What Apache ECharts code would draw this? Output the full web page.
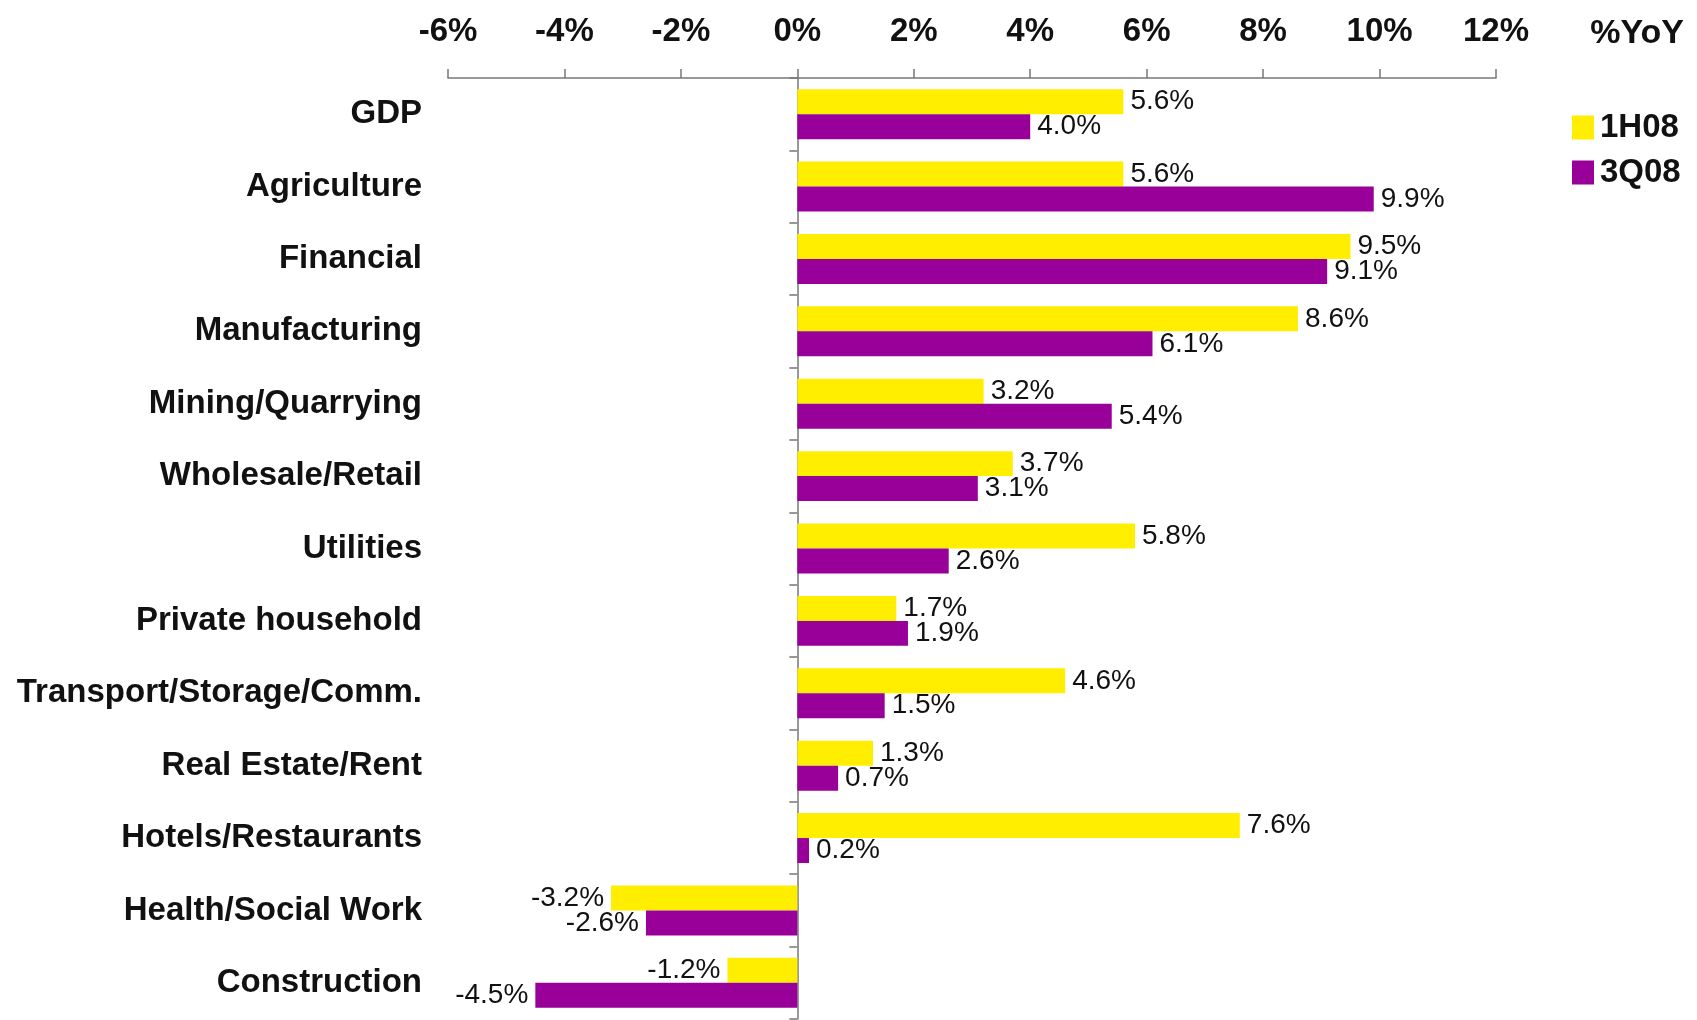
<!DOCTYPE html>
<html>
<head>
<meta charset="utf-8">
<title>GDP by sector %YoY</title>
<script src="https://cdn.jsdelivr.net/npm/echarts@6/dist/echarts.min.js"></script>
<style>
  html, body { margin: 0; padding: 0; background: #fff; }
  #main { width: 1697px; height: 1020px; }
</style>
</head>
<body>
<div id="main"></div>
<script>
// Data
var sectors = ['GDP', 'Agriculture', 'Financial', 'Manufacturing', 'Mining/Quarrying',
  'Wholesale/Retail', 'Utilities', 'Private household', 'Transport/Storage/Comm.',
  'Real Estate/Rent', 'Hotels/Restaurants', 'Health/Social Work', 'Construction'];
var growth1H08 = [5.6, 5.6, 9.5, 8.6, 3.2, 3.7, 5.8, 1.7, 4.6, 1.3, 7.6, -3.2, -1.2];
var growth3Q08 = [4.0, 9.9, 9.1, 6.1, 5.4, 3.1, 2.6, 1.9, 1.5, 0.7, 0.2, -2.6, -4.5];
var seriesNames = ['1H08', '3Q08'];

var fontFamily = '"Liberation Sans", Arial, sans-serif';

function labelFor(params) {
  return params.value.toFixed(1) + '%';
}

function barSeries(name, data, color) {
  return {
    name: name,
    type: 'bar',
    data: data.map(function (v) {
      return {
        value: v,
        label: { position: v < 0 ? 'left' : 'right' }
      };
    }),
    barGap: '0%',
    barCategoryGap: '31%',
    itemStyle: { color: color },
    label: {
      show: true,
      formatter: labelFor,
      color: '#111',
      fontFamily: fontFamily,
      fontSize: 28,
      distance: 7
    }
  };
}

var chart = echarts.init(document.getElementById('main'));
chart.setOption({
  animation: false,
  title: {
    text: '%YoY',
    right: 8,
    top: 12,
    textStyle: { fontFamily: fontFamily, fontSize: 34, fontWeight: 'bold', color: '#111' }
  },
  legend: {
    data: seriesNames,
    orient: 'vertical',
    left: 1567,
    top: 106,
    itemWidth: 22,
    itemHeight: 24,
    itemGap: 12,
    icon: 'rect',
    textStyle: { fontFamily: fontFamily, fontSize: 33, fontWeight: 'bold', color: '#111', padding: [0, 0, 0, 1] }
  },
  grid: {
    left: 448,
    right: 201,
    top: 78,
    bottom: 1,
    outerBoundsMode: 'none',
    containLabel: false
  },
  xAxis: {
    type: 'value',
    position: 'top',
    min: -6,
    max: 12,
    interval: 2,
    axisLine: { show: true, lineStyle: { color: '#777', width: 1.5 } },
    axisTick: { show: true, length: 9, lineStyle: { color: '#777', width: 1.5 } },
    splitLine: { show: false },
    axisLabel: {
      formatter: '{value}%',
      margin: 30,
      color: '#111',
      fontFamily: fontFamily,
      fontSize: 33,
      fontWeight: 'bold'
    }
  },
  yAxis: {
    type: 'category',
    data: sectors,
    inverse: true,
    axisLine: { show: true, onZero: true, lineStyle: { color: '#777', width: 1.5 } },
    axisTick: { show: true, length: 8, lineStyle: { color: '#777', width: 1.5 } },
    axisLabel: {
      margin: 26,
      color: '#111',
      fontFamily: fontFamily,
      fontSize: 33,
      fontWeight: 'bold',
      padding: [6, 0, 0, 0]
    }
  },
  series: [
    barSeries(seriesNames[0], growth1H08, '#FFEE00'),
    barSeries(seriesNames[1], growth3Q08, '#990099')
  ]
});
</script>
</body>
</html>
